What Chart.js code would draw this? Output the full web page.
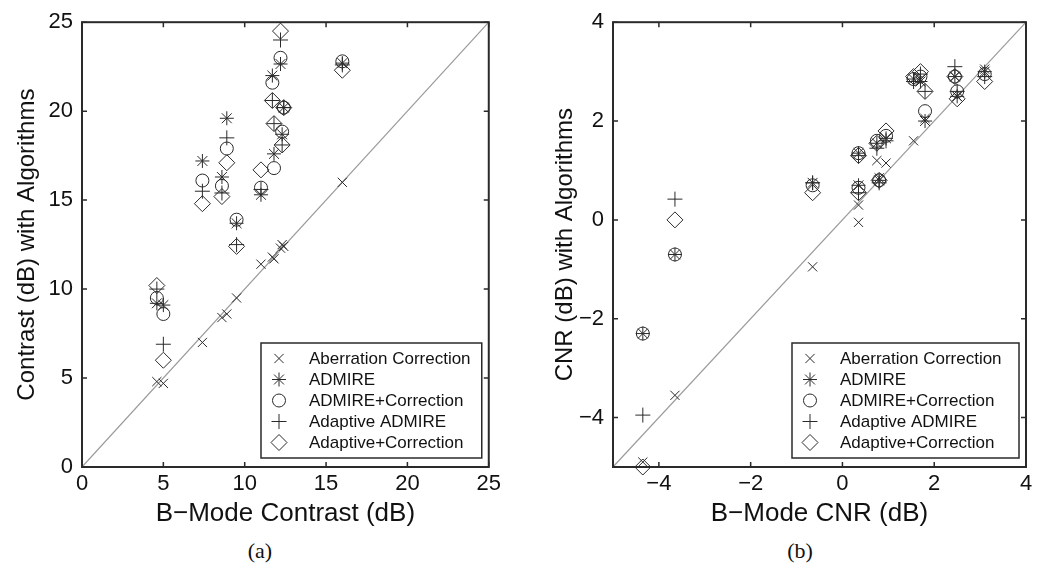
<!DOCTYPE html>
<html>
<head>
<meta charset="utf-8">
<script src="https://cdn.jsdelivr.net/npm/chart.js@4.4.0/dist/chart.umd.min.js"></script>
<style>
  body { margin: 0; background: #fff; width: 1038px; height: 572px; position: relative; overflow: hidden; }
  .wrap { position: absolute; top: 0; height: 535px; }
  #wrapA { left: 0; width: 505px; }
  #wrapB { left: 520px; width: 518px; }
  .cap { position: absolute; top: 538px; width: 60px; text-align: center; font-family: "Liberation Serif", serif; font-size: 22px; color: #111; }
</style>
</head>
<body>
<div class="wrap" id="wrapA"><canvas id="chartA"></canvas></div>
<div class="wrap" id="wrapB"><canvas id="chartB"></canvas></div>
<div class="cap" style="left:230px">(a)</div>
<div class="cap" style="left:770px">(b)</div>
<script>
// (a) contrast, one entry per ROI
const contrastBMode   = [4.6, 5.0, 7.4, 8.6, 8.9, 9.5, 11.0, 11.8, 11.7, 12.2, 12.4, 12.3, 16.0];
const contrastAberr   = [4.8, 4.7, 7.0, 8.4, 8.6, 9.5, 11.4, 11.7, 11.8, 12.3, 12.4, 12.5, 16.0];
const contrastAdmire  = [9.2, 9.1, 17.2, 16.3, 19.6, 13.7, 15.3, 17.6, 22.0, 22.65, 20.2, 18.7, 22.7];
const contrastAdmCorr = [9.5, 8.6, 16.1, 15.8, 17.9, 13.9, 15.7, 16.8, 21.6, 23.0, 20.2, 18.85, 22.8];
const contrastAdapt   = [10.0, 6.9, 15.5, 15.4, 18.5, 12.5, 15.6, 19.3, 20.6, 24.0, 20.2, 18.1, 22.6];
const contrastAdpCorr = [10.2, 6.0, 14.8, 15.2, 17.1, 12.4, 16.7, 19.3, 20.6, 24.5, 20.2, 18.1, 22.3];
const contrastTicks = [0, 5, 10, 15, 20, 25];

// (b) CNR, one entry per ROI
const cnrBMode   = [-4.35, -3.65, -0.65, 0.35, 0.35, 0.8, 0.95, 0.75, 1.55, 1.7, 1.8, 2.45, 2.5, 3.1];
const cnrAberr   = [-4.9, -3.55, -0.95, -0.05, 0.3, 0.85, 1.15, 1.2, 1.6, 2.85, 2.05, 2.9, 2.5, 3.05];
const cnrAdmire  = [-2.3, -0.7, 0.75, 0.7, 1.35, 0.8, 1.65, 1.55, 2.85, 2.8, 2.0, 2.9, 2.5, 3.0];
const cnrAdmCorr = [-2.3, -0.7, 0.7, 0.65, 1.35, 0.8, 1.7, 1.6, 2.85, 2.9, 2.2, 2.9, 2.6, 2.95];
const cnrAdapt   = [-3.95, 0.42, 0.75, 0.55, 1.3, 0.75, 1.6, 1.45, 2.8, 2.95, 2.6, 3.1, 2.6, 2.9];
const cnrAdpCorr = [-5.0, 0.0, 0.55, 0.55, 1.3, 0.8, 1.8, 1.55, 2.9, 3.0, 2.6, 2.9, 2.45, 2.8];
const cnrTicks = [-4, -2, 0, 2, 4];

const seriesNames = ['Aberration Correction', 'ADMIRE', 'ADMIRE+Correction', 'Adaptive ADMIRE', 'Adaptive+Correction'];
const markers = [
  { pointStyle: 'crossRot', pointRadius: 6.5 },
  { pointStyle: 'star', pointRadius: 7 },
  { pointStyle: 'circle', pointRadius: 6.5 },
  { pointStyle: 'cross', pointRadius: 7.5 },
  { pointStyle: 'rectRot', pointRadius: 8 }
];

const ink = '#2a2a2a';
const sans = '"Liberation Sans", Arial, sans-serif';

function pairs(xs, ys) {
  return xs.map((x, i) => ({ x: x, y: ys[i] }));
}

function makeDatasets(xs, ySets, range) {
  const sets = ySets.map((ys, i) => ({
    label: seriesNames[i],
    data: pairs(xs, ys),
    pointStyle: markers[i].pointStyle,
    pointRadius: markers[i].pointRadius,
    pointBorderWidth: 1,
    pointBorderColor: ink,
    pointBackgroundColor: 'rgba(0,0,0,0)',
    clip: false,
    order: 1
  }));
  sets.push({
    label: 'diag',
    data: pairs(range, range),
    showLine: true,
    borderColor: '#9a9a9a',
    borderWidth: 1.2,
    pointRadius: 0,
    order: 10
  });
  return sets;
}

// MATLAB style box, inward ticks and a legend inside the axes
const matlabBox = {
  id: 'matlabBox',
  afterDraw(chart, args, opts) {
    const { ctx, chartArea: a, scales: { x, y } } = chart;
    ctx.save();
    ctx.strokeStyle = ink;
    ctx.lineWidth = 1.5;
    x.ticks.forEach(t => {
      const px = x.getPixelForValue(t.value);
      ctx.beginPath();
      ctx.moveTo(px, a.bottom); ctx.lineTo(px, a.bottom - 5);
      ctx.moveTo(px, a.top); ctx.lineTo(px, a.top + 5);
      ctx.stroke();
    });
    y.ticks.forEach(t => {
      const py = y.getPixelForValue(t.value);
      ctx.beginPath();
      ctx.moveTo(a.left, py); ctx.lineTo(a.left + 5, py);
      ctx.moveTo(a.right, py); ctx.lineTo(a.right - 5, py);
      ctx.stroke();
    });

    // legend
    const lx = a.left + opts.left, ly = a.bottom - opts.bottom - opts.height;
    const lw = a.right - opts.right - lx;
    ctx.fillStyle = '#fff';
    ctx.fillRect(lx, ly, lw, opts.height);
    ctx.lineWidth = 1.5;
    ctx.strokeRect(lx, ly, lw, opts.height);
    ctx.font = '17px ' + sans;
    ctx.textBaseline = 'middle';
    const rowH = (opts.height - 10) / seriesNames.length;
    chart.data.datasets.forEach((ds, i) => {
      if (i >= seriesNames.length) return;
      const cy = ly + 5 + rowH * (i + 0.5);
      ctx.strokeStyle = ink;
      ctx.fillStyle = 'rgba(0,0,0,0)';
      ctx.lineWidth = 1;
      Chart.helpers.drawPoint(ctx, { pointStyle: ds.pointStyle, radius: ds.pointRadius, rotation: 0, borderWidth: 1 }, lx + 18, cy);
      ctx.fillStyle = '#111';
      ctx.fillText(ds.label, lx + 48, cy + 1);
    });

    ctx.lineWidth = 2;
    ctx.strokeStyle = ink;
    ctx.strokeRect(a.left, a.top, a.right - a.left, a.bottom - a.top);
    ctx.restore();
  }
};

function axis(min, max, tickVals, title, isX, axisSize, titlePad) {
  return {
    type: 'linear',
    min: min,
    max: max,
    grid: { display: false, drawTicks: false },
    border: { display: false },
    afterBuildTicks: s => { s.ticks = tickVals.map(v => ({ value: v })); },
    afterFit: s => { if (isX) s.height = axisSize; else s.width = axisSize; },
    ticks: {
      color: '#111',
      font: { family: sans, size: 22 },
      padding: isX ? 4 : 9,
      autoSkip: false,
      maxRotation: 0,
      callback: v => String(v).replace('-', '\u2212')
    },
    title: {
      display: true,
      text: title,
      color: '#111',
      font: { family: sans, size: isX ? 26 : 24 },
      padding: isX ? { top: 0, bottom: 6 } : { top: titlePad, bottom: 0 }
    }
  };
}

function makeConfig(datasets, xr, yr, xt, yt, xTitle, yTitle, yAxisW, yTitlePad, pad) {
  return {
    type: 'scatter',
    data: { datasets: datasets },
    options: {
      responsive: true,
      maintainAspectRatio: false,
      animation: false,
      layout: { padding: pad },
      scales: {
        x: axis(xr[0], xr[1], xt, xTitle, true, 68, 0),
        y: axis(yr[0], yr[1], yt, yTitle, false, yAxisW, yTitlePad)
      },
      plugins: {
        legend: { display: false },
        tooltip: { enabled: false },
        matlabBox: { left: 179, right: 7, bottom: 9, height: 115 }
      }
    },
    plugins: [matlabBox]
  };
}

window.onload = function() {
  const dsA = makeDatasets(contrastBMode,
    [contrastAberr, contrastAdmire, contrastAdmCorr, contrastAdapt, contrastAdpCorr], [0, 25]);
  new Chart(document.getElementById('chartA').getContext('2d'),
    makeConfig(dsA, [0, 25], [0, 25], contrastTicks, contrastTicks,
      'B\u2212Mode Contrast (dB)', 'Contrast (dB) with Algorithms', 82, 13,
      { top: 20, right: 15, left: 0, bottom: 0 }));

  const dsB = makeDatasets(cnrBMode,
    [cnrAberr, cnrAdmire, cnrAdmCorr, cnrAdapt, cnrAdpCorr], [-5, 4]);
  new Chart(document.getElementById('chartB').getContext('2d'),
    makeConfig(dsB, [-5, 4], [-5, 4], cnrTicks, cnrTicks,
      'B\u2212Mode CNR (dB)', 'CNR (dB) with Algorithms', 93, 31,
      { top: 13, right: 12, left: 0, bottom: 0 }));
};
</script>
</body>
</html>
